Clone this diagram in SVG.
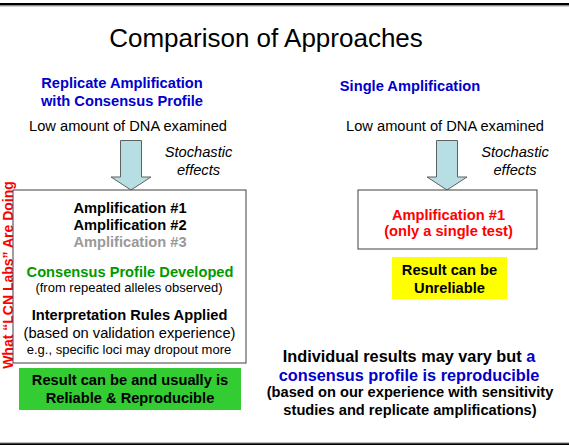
<svg xmlns="http://www.w3.org/2000/svg" width="569" height="445" viewBox="0 0 569 445">
<style>
text{font-family:"Liberation Sans",Arial,sans-serif;text-anchor:middle}
.b{font-weight:bold}
.n{font-size:14.67px}
.s{font-size:13px}
.it{font-style:italic;font-size:14.67px}
.blue{fill:#0000cc}
.box{fill:#fff;stroke:#404040;stroke-width:1}
.arr{fill:#b7dee3;stroke:#606060;stroke-width:1}
</style>
<rect x="0" y="3" width="569" height="2.4" fill="#000"/>
<rect x="0" y="5.4" width="569" height="1" fill="#8a8a8a"/>
<rect x="0" y="442.3" width="569" height="1" fill="#a0a0a0"/>
<rect x="0" y="443.3" width="569" height="2" fill="#000"/>
<g id="title"><text x="266" y="47" style="font-size:26px">Comparison of Approaches</text></g>
<g id="side-label"><text class="b" transform="translate(13,275) rotate(-90)" style="font-size:14px;fill:#ff0000">What “LCN Labs” Are Doing</text></g>
<g id="heading-left">
<text class="b n blue" x="122" y="87.5">Replicate Amplification</text>
<text class="b n blue" x="122" y="106">with Consensus Profile</text>
</g>
<g id="heading-right"><text class="b n blue" x="410" y="91">Single Amplification</text></g>
<g id="input-left"><text class="n" x="128" y="131">Low amount of DNA examined</text></g>
<g id="input-right"><text class="n" x="445" y="131">Low amount of DNA examined</text></g>
<g id="connectors">
<path class="arr" d="M120.5,140.5 H141.5 V177 H151 L131,190 L111,177 H120.5 Z"/>
<path class="arr" d="M436.5,140.5 H457.5 V177 H467 L447,190 L427,177 H436.5 Z"/>
<text class="it" x="198.5" y="157">Stochastic</text>
<text class="it" x="198.5" y="175">effects</text>
<text class="it" x="515" y="157">Stochastic</text>
<text class="it" x="515" y="175">effects</text>
</g>
<g id="box-left">
<rect class="box" x="13" y="190" width="233" height="173"/>
<text class="b n" x="130" y="212.5">Amplification #1</text>
<text class="b n" x="130" y="229.5">Amplification #2</text>
<text class="b n" x="130" y="247" fill="#999">Amplification #3</text>
<text class="b n" x="130" y="277" fill="#009900">Consensus Profile Developed</text>
<text class="s" x="129" y="292">(from repeated alleles observed)</text>
<text class="b n" x="129.5" y="320">Interpretation Rules Applied</text>
<text class="n" x="129.5" y="338">(based on validation experience)</text>
<text class="s" x="129" y="354">e.g., specific loci may dropout more</text>
</g>
<g id="result-left">
<rect x="19" y="368" width="222" height="42" fill="#33cc33"/>
<text class="b n" x="130" y="385">Result can be and usually is</text>
<text class="b n" x="130" y="403">Reliable &amp; Reproducible</text>
</g>
<g id="box-right">
<rect class="box" x="358" y="190" width="179" height="59"/>
<text class="b n" x="448.5" y="219.5" fill="#ff0000">Amplification #1</text>
<text class="b n" x="448.5" y="235.5" fill="#ff0000">(only a single test)</text>
</g>
<g id="result-right">
<rect x="392" y="257" width="115" height="42" fill="#ffff00"/>
<text class="b n" x="449.5" y="274.5">Result can be</text>
<text class="b n" x="449.5" y="292.5">Unreliable</text>
</g>
<g id="note">
<text class="b" x="409" y="362" style="font-size:16.3px">Individual results may vary but <tspan class="blue">a</tspan></text>
<text class="b blue" x="409" y="381" style="font-size:16.3px">consensus profile is reproducible</text>
<text class="b n" x="410" y="397">(based on our experience with sensitivity</text>
<text class="b n" x="410" y="415">studies and replicate amplifications)</text>
</g>
</svg>
